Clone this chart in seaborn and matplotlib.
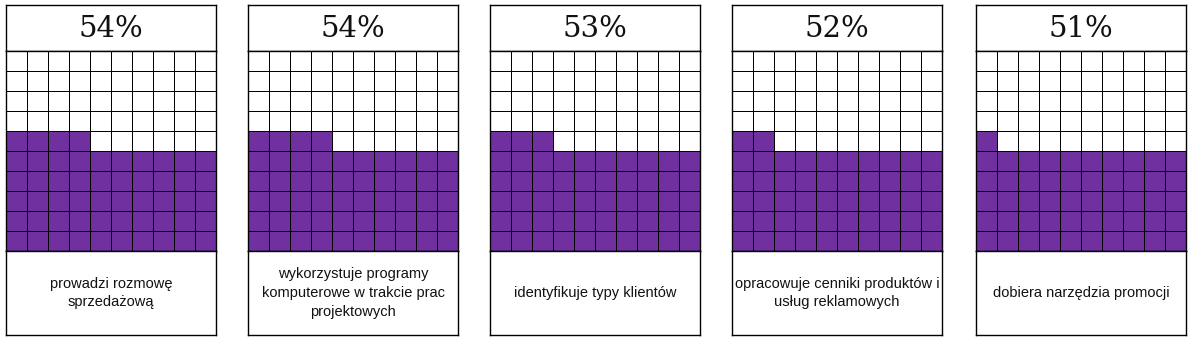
import numpy as np
import matplotlib
matplotlib.use("Agg")
import matplotlib.pyplot as plt
from matplotlib.colors import ListedColormap
import seaborn as sns

percent_values = [54, 54, 53, 52, 51]
percent_labels = ["54%", "54%", "53%", "52%", "51%"]
categories = [
    "prowadzi rozmowę\nsprzedażową",
    "wykorzystuje programy\nkomputerowe w trakcie prac\nprojektowych",
    "identyfikuje typy klientów",
    "opracowuje cenniki produktów i\nusług reklamowych",
    "dobiera narzędzia promocji",
]

sns.set_style("white")
plt.rcParams["font.family"] = ["Liberation Sans", "DejaVu Sans"]

W, H = 1195, 346
fig = plt.figure(figsize=(W / 100, H / 100), dpi=100)
fig.patch.set_facecolor("white")

lefts = [6, 248, 490, 732, 976]
pw = 210
top, head_bot, grid_bot, bot = 5, 51, 251, 335
purple = "#7030A0"
cmap = ListedColormap(["white", purple])


def fx(px):
    return px / W


def fy(py):
    return 1 - py / H


for i, (val, lab, cat) in enumerate(zip(percent_values, percent_labels, categories)):
    x0 = fx(lefts[i])
    w = pw / W
    # header
    axh = fig.add_axes([x0, fy(head_bot), w, fy(top) - fy(head_bot)])
    axh.set_xticks([]); axh.set_yticks([])
    for s in axh.spines.values():
        s.set_visible(True); s.set_color("black"); s.set_linewidth(1.0)
    axh.text(0.5, 0.48, lab, ha="center", va="center", fontsize=21,
             color="#111111",
             family=["DejaVu Serif"], transform=axh.transAxes)
    # grid
    k = np.arange(100)
    mat = np.zeros((10, 10))
    filled = k < val
    rows = 9 - k // 10
    cols = k % 10
    mat[rows[filled], cols[filled]] = 1
    axg = fig.add_axes([x0, fy(grid_bot), w, fy(head_bot) - fy(grid_bot)])
    sns.heatmap(mat, ax=axg, cmap=cmap, vmin=0, vmax=1, cbar=False,
                linewidths=0.72, linecolor="black", square=False,
                xticklabels=False, yticklabels=False)
    for s in axg.spines.values():
        s.set_visible(True); s.set_color("black"); s.set_linewidth(1.0)
    # footer
    axf = fig.add_axes([x0, fy(bot), w, fy(grid_bot) - fy(bot)])
    axf.set_xticks([]); axf.set_yticks([])
    for s in axf.spines.values():
        s.set_visible(True); s.set_color("black"); s.set_linewidth(1.0)
    axf.text(0.5, 0.5, cat, ha="center", va="center", fontsize=10.5,
             color="#111111", linespacing=1.45, transform=axf.transAxes)

fig.savefig("out.png", dpi=100, facecolor="white")
